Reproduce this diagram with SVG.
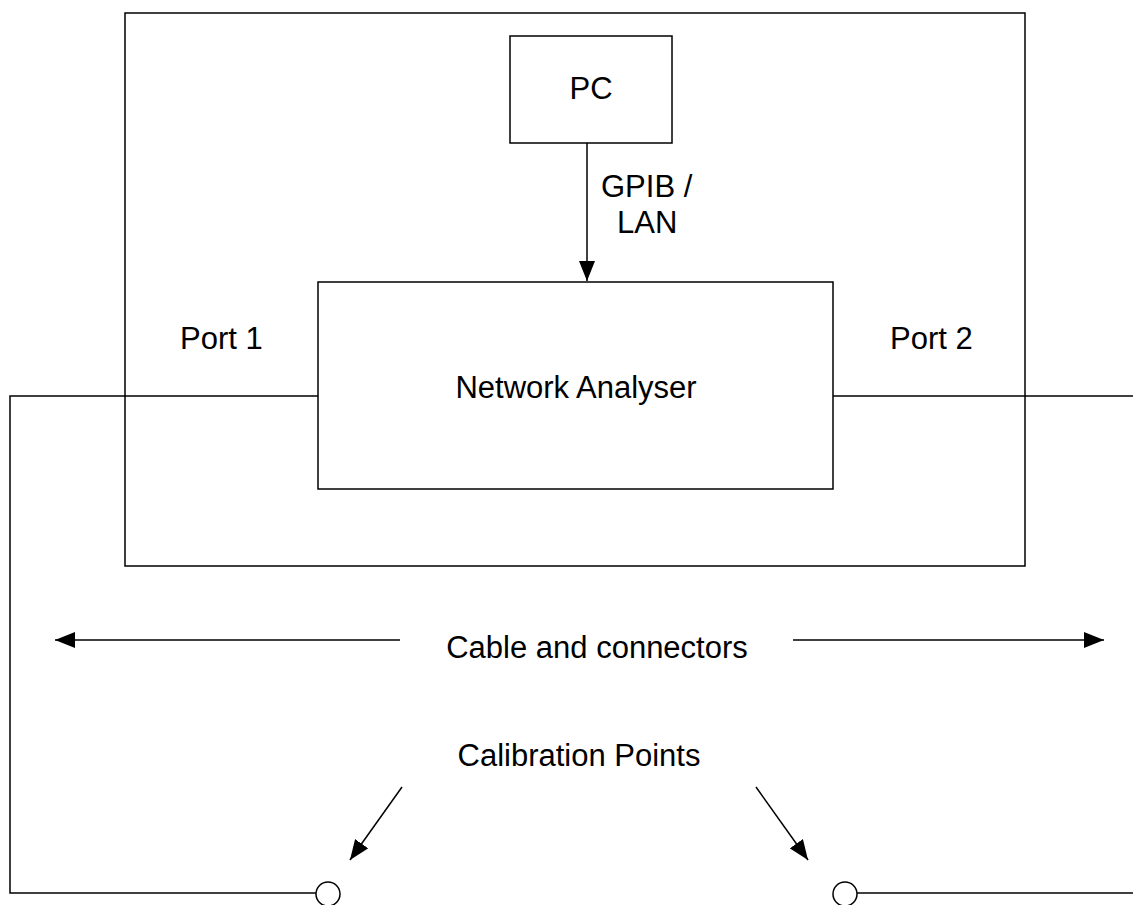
<svg xmlns="http://www.w3.org/2000/svg" width="1133" height="905" viewBox="0 0 1133 905">
<defs>
<marker id="ah" viewBox="0 0 20 16" refX="20" refY="8" markerWidth="20" markerHeight="16" markerUnits="userSpaceOnUse" orient="auto">
<path d="M0,0 L20,8 L0,16 z" fill="#000"/>
</marker>
</defs>
<style>
.box{fill:none;stroke:#000;stroke-width:1.5}
.ln{fill:none;stroke:#000;stroke-width:1.5}
.t{font-family:"Liberation Sans",Arial,sans-serif;font-size:31px;fill:#000}
</style>
<rect width="1133" height="905" fill="#fff"/>
<g id="outer"><rect class="box" x="125" y="13" width="900" height="553"/></g>
<g id="pc"><rect class="box" x="510" y="36" width="162" height="107"/><text class="t" x="591" y="99" text-anchor="middle">PC</text></g>
<g id="na"><rect class="box" x="318" y="282" width="515" height="207"/><text class="t" x="576" y="398" text-anchor="middle">Network Analyser</text></g>
<g id="labels">
<text class="t" x="601" y="197">GPIB /</text>
<text class="t" x="617" y="233">LAN</text>
<text class="t" x="180" y="349">Port 1</text>
<text class="t" x="890" y="349">Port 2</text>
<text class="t" x="597" y="658" text-anchor="middle">Cable and connectors</text>
<text class="t" x="579" y="766" text-anchor="middle">Calibration Points</text>
</g>
<g id="connectors">
<line class="ln" x1="587" y1="143" x2="587" y2="281" marker-end="url(#ah)"/>
<polyline class="ln" points="318,396 10,396 10,893 316,893"/>
<line class="ln" x1="833" y1="396" x2="1133" y2="396"/>
<line class="ln" x1="857" y1="893" x2="1133" y2="893"/>
<circle class="ln" cx="328" cy="894" r="12"/>
<circle class="ln" cx="845" cy="894" r="12"/>
<line class="ln" x1="400" y1="640" x2="55" y2="640" marker-end="url(#ah)"/>
<line class="ln" x1="793" y1="640" x2="1104" y2="640" marker-end="url(#ah)"/>
<line class="ln" x1="402" y1="787" x2="350" y2="860" marker-end="url(#ah)"/>
<line class="ln" x1="756" y1="787" x2="808" y2="860" marker-end="url(#ah)"/>
</g>
</svg>
